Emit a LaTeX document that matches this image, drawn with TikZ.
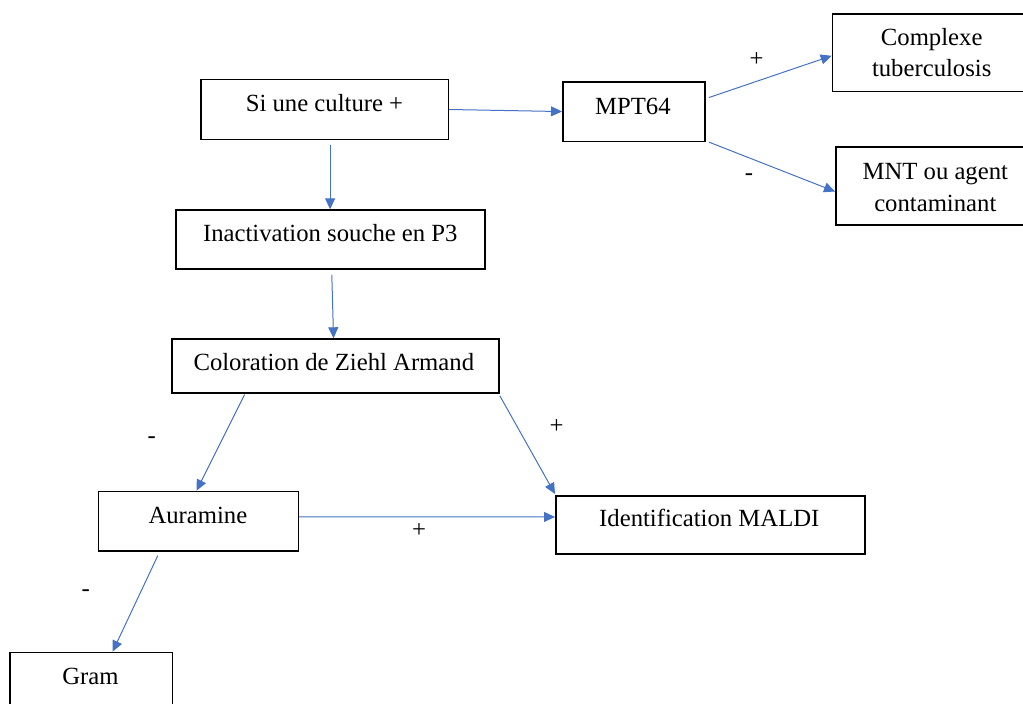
\documentclass[tikz,border=0pt]{standalone}
\usepackage{fontspec}
\setmainfont{Liberation Serif}
\usetikzlibrary{arrows.meta,calc}
\definecolor{arrowblue}{HTML}{4472C4}
\begin{document}
\begin{tikzpicture}[x=1pt,y=-1pt,
  box/.style={draw=black,line width=1.6pt,anchor=north west,inner sep=0pt,fill=none},
  txt/.style={anchor=base,inner sep=0pt,font=\fontsize{24.7}{32}\selectfont},
  sign/.style={inner sep=0pt,font=\fontsize{24.7}{32}\selectfont},
  arr/.style={draw=arrowblue,line width=1pt,-{Triangle[length=11pt,width=10pt]}}]
\useasboundingbox (0,0) rectangle (1023,704);
\clip (0,0) rectangle (1023,704);
% boxes
\node[box,minimum width=247.6pt,minimum height=60.2pt] (si) at (200,78.6) {};
\node[box,minimum width=142pt,minimum height=59.5pt] (mpt) at (562,81) {};
\node[box,minimum width=200pt,minimum height=77.4pt] (cpx) at (831.7,13.3) {};
\node[box,minimum width=200.6pt,minimum height=78pt] (mnt) at (835,146) {};
\node[box,minimum width=309pt,minimum height=59pt] (ina) at (175,209.3) {};
\node[box,minimum width=327.3pt,minimum height=54pt] (col) at (171,338.3) {};
\node[box,minimum width=200pt,minimum height=59.3pt] (aur) at (97.5,490.7) {};
\node[box,minimum width=309pt,minimum height=58.3pt] (mal) at (555,495) {};
\node[box,minimum width=162.4pt,minimum height=70pt] (gram) at (9.3,651.7) {};
% texts
\node[txt] (si-t) at (324.5,111.4) {Si une culture +};
\node[txt] (mpt-t) at (632.9,114) {MPT64};
\node[txt] (cpx-t) at (931.7,45) {\begin{tabular}[t]{@{}c@{}}Complexe\\tuberculosis\end{tabular}};
\node[txt] (mnt-t) at (935.3,179) {\begin{tabular}[t]{@{}c@{}}MNT ou agent\\contaminant\end{tabular}};
\node[txt] (ina-t) at (330.3,241.7) {Inactivation souche en P3};
\node[txt] (col-t) at (333.8,370.7) {Coloration de Ziehl Armand};
\node[txt] (aur-t) at (197.9,523) {Auramine};
\node[txt] (mal-t) at (709.3,526.7) {Identification MALDI};
\node[txt] (gram-t) at (90.5,684) {Gram};
% connectors
\draw[arr] (si.east) -- (mpt.west);
\draw[arr] ($(mpt.east)+(3.3,-14)$) -- ($(cpx.west)+(0,3)$);
\draw[arr] ($(mpt.south east)+(3.3,0)$) -- ($(mnt.west)+(0,5.7)$);
\draw[arr] ($(si.south)+(5.5,4.5)$) -- ($(ina.north)+(-0.2,0)$);
\draw[arr] ($(ina.south)+(1.5,5)$) -- ($(col.north)+(-1.9,0)$);
\draw[arr] ($(col.south west)+(73.6,0.7)$) -- ($(aur.north)+(-1.8,0)$);
\draw[arr] ($(col.south east)+(0,2)$) -- ($(mal.north west)+(0,-1)$);
\draw[arr] ($(aur.east)+(0,-4.3)$) -- ($(mal.west)+(0,-8)$);
\draw[arr] ($(aur.south)+(-40.5,4)$) -- ($(gram.north)+(21.3,0)$);
% signs
\node[sign] (s1) at (756.7,59.3) {+};
\node[sign] (s2) at (749,176.7) {-};
\node[sign] (s3) at (151.8,440) {-};
\node[sign] (s4) at (556.7,426.7) {+};
\node[sign] (s5) at (419,530.7) {+};
\node[sign] (s6) at (85.7,593.3) {-};
\end{tikzpicture}
\end{document}
